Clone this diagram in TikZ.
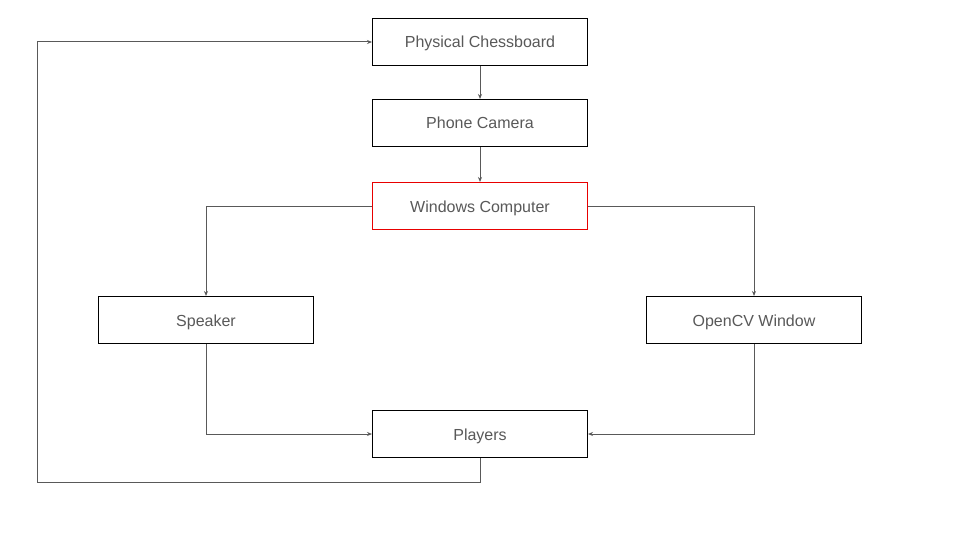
\documentclass[tikz,border=0pt]{standalone}
\usepackage{fontspec}
\setmainfont{Liberation Sans}
\usetikzlibrary{arrows.meta,backgrounds}
\definecolor{txtgray}{HTML}{595959}
\definecolor{linegray}{HTML}{595959}
\definecolor{boxred}{HTML}{E80000}
\begin{document}
\begin{tikzpicture}[x=1pt,y=-1pt,
  box/.style={draw=black,fill=white,line width=1pt,minimum width=215pt,minimum height=47pt,inner sep=0pt,
    text height=13pt,text depth=1pt,
    font=\fontsize{16}{19}\selectfont,text=txtgray},
  redbox/.style={box,draw=boxred},
  conn/.style={draw=linegray,line width=1pt,-{Stealth[length=5pt,width=4pt]}}]
\useasboundingbox (0,0) rectangle (960,540);
\node[box] (chess) at (480,42) {Physical Chessboard};
\node[box] (cam) at (480,123) {Phone Camera};
\node[redbox] (win) at (480,206) {Windows Computer};
\node[box] (spk) at (206,320) {Speaker};
\node[box] (cv) at (754,320) {OpenCV Window};
\node[box] (pl) at (480,434) {Players};
\coordinate (c1) at (37.5,482.5);
\coordinate (c2) at (37.5,42);
\begin{pgfonlayer}{background}
\draw[conn] (chess) -- (cam);
\draw[conn] (cam) -- (win);
\draw[conn] (win.west) -| (spk.north);
\draw[conn] (win.east) -| (cv.north);
\draw[conn] (spk.south) |- (pl.west);
\draw[conn] (cv.south) |- (pl.east);
\draw[conn] (pl.south) |- (c1) -- (c2) -- (chess.west);
\end{pgfonlayer}
\end{tikzpicture}
\end{document}
